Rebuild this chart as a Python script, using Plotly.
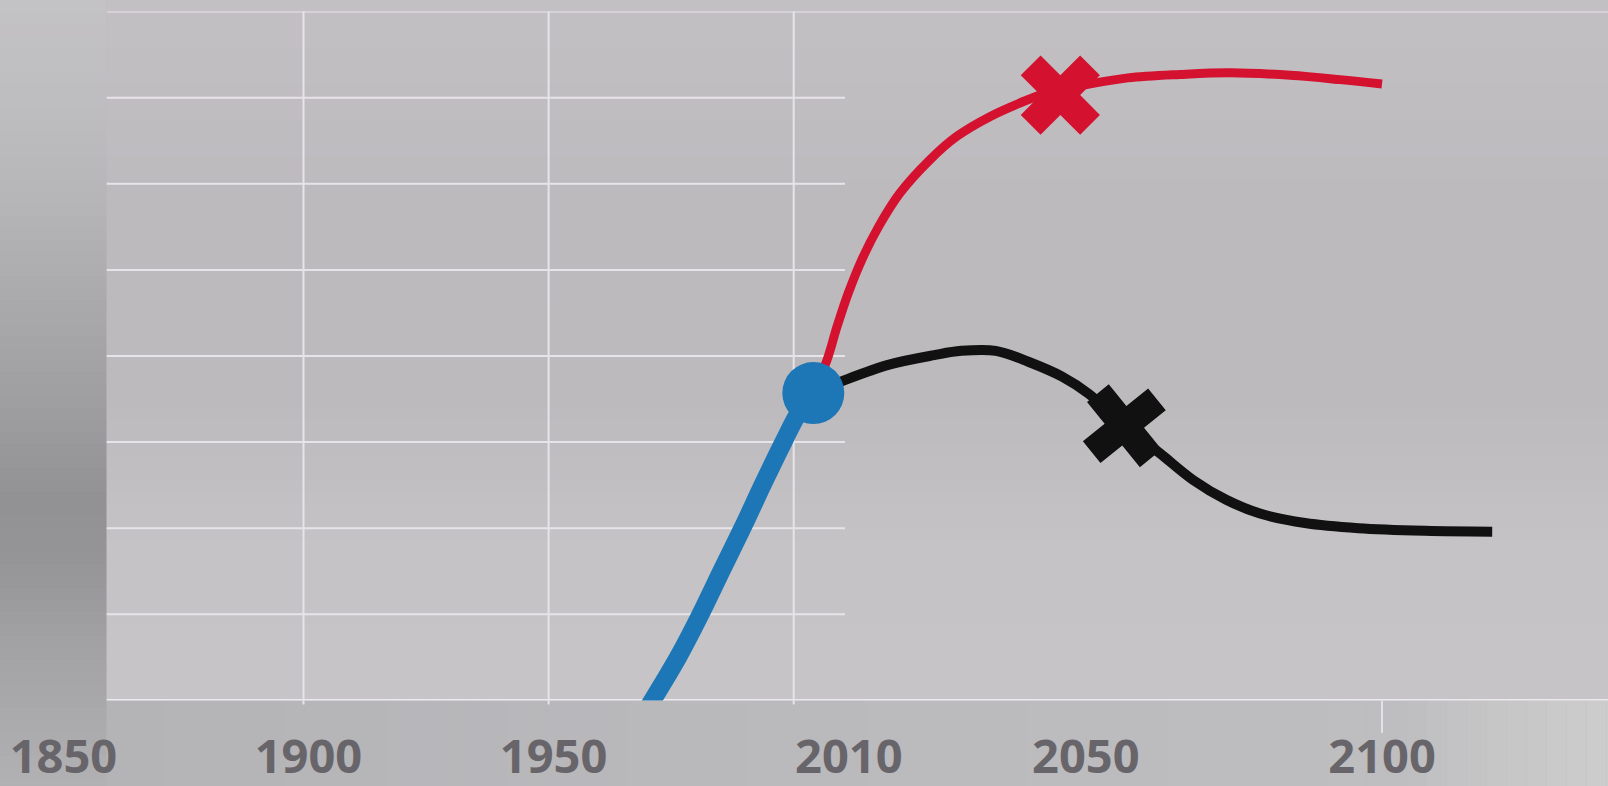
import plotly.graph_objects as go

# ------------------------------------------------------------------ data
# historical series (blue)
blue_years = [1970.1, 1976.5, 1980.9, 1985.4, 1989.7, 1993.8, 1997.9, 2000.9, 2004.0]
blue_values = [2.90, 3.51, 3.99, 4.52, 5.02, 5.52, 6.00, 6.33, 6.57]

# high projection (red)
red_years = [2004.0, 2006.3, 2008.0, 2009.9, 2012.2, 2015.0, 2018.6, 2023.7, 2028.2,
             2033.8, 2040.0, 2044.0, 2049.9, 2057.1, 2065.9, 2074.4, 2084.5, 2092.9, 2100.0]
red_values = [6.57, 6.95, 7.34, 7.73, 8.12, 8.50, 8.89, 9.28, 9.55,
              9.78, 9.97, 10.07, 10.15, 10.23, 10.27, 10.29, 10.26, 10.21, 10.16]

# low projection (black)
black_years = [2004.0, 2009.3, 2016.8, 2024.4, 2029.0, 2034.8, 2040.4, 2046.0, 2050.5,
               2056.5, 2062.5, 2068.1, 2073.7, 2079.4, 2087.0, 2096.0, 2107.3, 2118.6]
black_values = [6.57, 6.72, 6.90, 7.01, 7.06, 7.06, 6.93, 6.76, 6.56,
                6.19, 5.87, 5.56, 5.33, 5.17, 5.06, 5.00, 4.97, 4.96]

# cross markers on the projections
red_mark_years = [2045.7]
red_mark_values = [10.03]
black_mark_years = [2056.5]
black_mark_values = [6.19]

# axis labels / grid
past_tick_years = [1850, 1900, 1950]
future_tick_years = [2010, 2050, 2100]
grid_years = [1900, 1950, 2000]
grid_values = [4, 5, 6, 7, 8, 9, 10]
y_min, y_max = 3, 11

# ------------------------------------------------------------------ layout geometry (pixels)
W, H = 1608, 786
PANEL_LEFT = 106.7
AXIS_Y = 700.4
TOP_Y = 11.6
JUNCTION_X = 813.3
PX_PER_YEAR_PAST = 4.902
REF_YEAR, REF_X = 1900, 303.5
PX_PER_YEAR_FUTURE = 5.924
GRID_RIGHT = 845.0

x1_start = REF_YEAR - REF_X / PX_PER_YEAR_PAST
x1_end = REF_YEAR + (JUNCTION_X - REF_X) / PX_PER_YEAR_PAST
x2_start = x1_end
x2_end = x2_start + (W - JUNCTION_X) / PX_PER_YEAR_FUTURE

BLUE = "#1d77b6"
RED = "#d4112f"
BLACK = "#111111"
GRID = "#e7e4e9"
LABEL = "#67656a"


def lerp_color(stops, v):
    for (a, ca), (b, cb) in zip(stops, stops[1:]):
        if a <= v <= b:
            t = (v - a) / (b - a) if b > a else 0
            c = [round(ca[i] + (cb[i] - ca[i]) * t) for i in range(3)]
            return "rgb(%d,%d,%d)" % tuple(c)
    return "rgb(%d,%d,%d)" % tuple(stops[-1][1])


shapes = []

# full background
shapes.append(dict(type="rect", xref="paper", yref="paper", x0=0, x1=1, y0=0, y1=1,
                   fillcolor="rgb(186,185,188)", line_width=0, layer="below"))

# left strip vertical gradient
left_stops = [(0, (195, 194, 196)), (100, (190, 189, 191)), (200, (182, 181, 183)),
              (300, (170, 169, 171)), (400, (159, 159, 161)), (500, (146, 146, 148)),
              (560, (149, 149, 151)), (650, (163, 162, 165)), (786, (177, 176, 179))]
step = 12
for y in range(0, H, step):
    shapes.append(dict(type="rect", xref="paper", yref="paper",
                       x0=0, x1=PANEL_LEFT / W,
                       y0=1 - min(y + step, H) / H, y1=1 - y / H,
                       fillcolor=lerp_color(left_stops, y + step / 2),
                       line_width=0, layer="below"))

# panel vertical gradient
panel_stops = [(0, (195, 192, 196)), (200, (189, 186, 190)), (400, (188, 186, 189)),
               (550, (197, 195, 197)), (700.4, (198, 196, 198))]
for y in range(0, int(AXIS_Y) + 1, step):
    y2 = min(y + step, AXIS_Y)
    shapes.append(dict(type="rect", xref="paper", yref="paper",
                       x0=PANEL_LEFT / W, x1=1,
                       y0=1 - y2 / H, y1=1 - y / H,
                       fillcolor=lerp_color(panel_stops, (y + y2) / 2),
                       line_width=0, layer="below"))

# strip below the axis, lighter to the right
bottom_stops = [(PANEL_LEFT, (180, 179, 182)), (800, (186, 185, 188)),
                (1400, (190, 189, 192)), (1500, (198, 198, 199)), (W, (205, 205, 205))]
xs = 20
x = PANEL_LEFT
while x < W:
    x2 = min(x + xs, W)
    shapes.append(dict(type="rect", xref="paper", yref="paper",
                       x0=x / W, x1=x2 / W, y0=0, y1=1 - AXIS_Y / H,
                       fillcolor=lerp_color(bottom_stops, (x + x2) / 2),
                       line_width=0, layer="below"))
    x = x2

# horizontal grid lines (short, left part)
for v in grid_values:
    shapes.append(dict(type="line", xref="paper", yref="y",
                       x0=PANEL_LEFT / W, x1=GRID_RIGHT / W, y0=v, y1=v,
                       line=dict(color=GRID, width=2), layer="below"))
# top line and axis line (full width)
shapes.append(dict(type="line", xref="paper", yref="y", x0=PANEL_LEFT / W, x1=1,
                   y0=y_max, y1=y_max, line=dict(color=GRID, width=2), layer="below"))
shapes.append(dict(type="line", xref="paper", yref="y", x0=PANEL_LEFT / W, x1=1,
                   y0=y_min, y1=y_min, line=dict(color="#ebe9ed", width=3), layer="below"))

# vertical grid lines
for yr in grid_years:
    shapes.append(dict(type="line", xref="x", yref="paper", x0=yr, x1=yr,
                       y0=1 - (AXIS_Y + 4) / H, y1=1 - TOP_Y / H,
                       line=dict(color=GRID, width=2), layer="below"))

# tick mark at 2100
shapes.append(dict(type="line", xref="x2", yref="paper", x0=2100, x1=2100,
                   y0=1 - 733 / H, y1=1 - AXIS_Y / H,
                   line=dict(color="#e3e1e5", width=2), layer="below"))

fig = go.Figure()

fig.add_trace(go.Scatter(x=blue_years, y=blue_values, mode="lines",
                         line=dict(color=BLUE, width=18, shape="spline", smoothing=1.0),
                         xaxis="x", yaxis="y", hoverinfo="skip", showlegend=False))
fig.add_trace(go.Scatter(x=red_years, y=red_values, mode="lines",
                         line=dict(color=RED, width=9, shape="spline", smoothing=1.0),
                         xaxis="x2", yaxis="y", hoverinfo="skip", showlegend=False))
fig.add_trace(go.Scatter(x=black_years, y=black_values, mode="lines",
                         line=dict(color=BLACK, width=10, shape="spline", smoothing=1.0),
                         xaxis="x2", yaxis="y", hoverinfo="skip", showlegend=False))
fig.add_trace(go.Scatter(x=red_mark_years, y=red_mark_values, mode="markers",
                         marker=dict(symbol="x", size=70, color=RED, line_width=0),
                         xaxis="x2", yaxis="y", cliponaxis=False, hoverinfo="skip", showlegend=False))
fig.add_trace(go.Scatter(x=black_mark_years, y=black_mark_values, mode="markers",
                         marker=dict(symbol="x", size=70, color=BLACK, line_width=0, angle=6),
                         xaxis="x2", yaxis="y", cliponaxis=False, hoverinfo="skip", showlegend=False))
# "now" dot: last point of the historical series
fig.add_trace(go.Scatter(x=[blue_years[-1]], y=[blue_values[-1]], mode="markers",
                         marker=dict(symbol="circle", size=62, color=BLUE, line_width=0),
                         xaxis="x2", yaxis="y", cliponaxis=False, hoverinfo="skip", showlegend=False))

tickfont = dict(family="Open Sans", size=47, color=LABEL, weight="bold")

fig.update_layout(
    width=W, height=H,
    margin=dict(l=0, r=0, t=0, b=0, pad=0),
    paper_bgcolor="rgba(0,0,0,0)",
    plot_bgcolor="rgba(0,0,0,0)",
    shapes=shapes,
    hovermode=False,
    xaxis=dict(domain=[0, JUNCTION_X / W], range=[x1_start, x1_end],
               tickmode="array", tickvals=past_tick_years,
               ticktext=[str(v) for v in past_tick_years],
               showgrid=False, zeroline=False, showline=False, ticks="",
               automargin=False, ticklabelshift=5,
               tickfont=tickfont, ticklabelstandoff=25, anchor="y", fixedrange=True),
    xaxis2=dict(domain=[JUNCTION_X / W, 1], range=[x2_start, x2_end],
                tickmode="array", tickvals=future_tick_years,
                ticktext=[str(v) for v in future_tick_years],
                showgrid=False, zeroline=False, showline=False, ticks="",
                automargin=False,
                tickfont=tickfont, ticklabelstandoff=25, anchor="y", fixedrange=True),
    yaxis=dict(domain=[1 - AXIS_Y / H, 1 - TOP_Y / H], range=[y_min, y_max],
               showgrid=False, zeroline=False, showline=False, showticklabels=False,
               automargin=False,
               ticks="", anchor="x", fixedrange=True),
)

fig.write_html(
    "out.html",
    config={"displayModeBar": False, "staticPlot": True},
    post_script="document.documentElement.style.margin='0';"
                "document.body.style.margin='0';"
                "document.body.style.overflow='hidden';"
                "document.documentElement.style.overflow='hidden';",
)
